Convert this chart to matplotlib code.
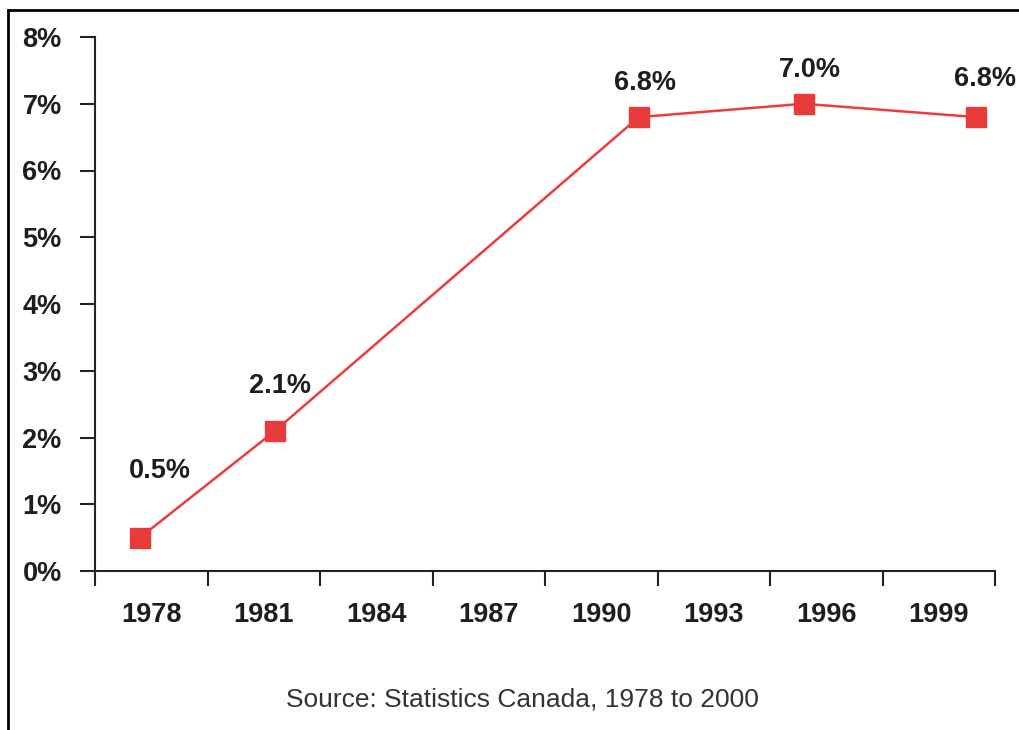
import matplotlib.pyplot as plt
from matplotlib.patches import Rectangle
from matplotlib.ticker import FixedLocator, NullFormatter

plt.rcParams['font.family'] = ['Liberation Sans', 'DejaVu Sans']

# survey years and share (%)
years = [1977.7, 1981.3, 1991.0, 1995.4, 2000.0]
share = [0.5, 2.1, 6.8, 7.0, 6.8]
value_labels = ['0.5%', '2.1%', '6.8%', '7.0%', '6.8%']
year_labels = ['1978', '1981', '1984', '1987', '1990', '1993', '1996', '1999']
y_ticks = [0, 1, 2, 3, 4, 5, 6, 7, 8]

# label nudges in pixels (dx, dy)
label_offsets = [(20, 67), (5, 45), (6, 34), (6, 34), (9, 38)]

W, H = 1019, 730
fig = plt.figure(figsize=(W / 100, H / 100), dpi=100)
ax = fig.add_axes([95 / W, (H - 571) / H, 900 / W, 534 / H])

red = '#ee3b3b'
ax.plot(years, share, color=red, lw=1.8, marker='s', ms=14,
        mfc='#e83c3c', mec='#e83c3c', zorder=3, clip_on=False)

px = 72 / 100
for x, y, lab, (dx, dy) in zip(years, share, value_labels, label_offsets):
    ax.annotate(lab, (x, y), xytext=(dx * px, dy * px), textcoords='offset points',
                ha='center', va='center', fontsize=19.5, fontweight='bold',
                color='#1e1e1e')

ax.set_xlim(1976.5, 2000.5)
ax.set_ylim(0, 8)

bounds = [1976.5 + 3 * i for i in range(9)]
mids = [b + 1.5 for b in bounds[:-1]]
ax.xaxis.set_major_locator(FixedLocator(bounds))
ax.xaxis.set_major_formatter(NullFormatter())
ax.xaxis.set_minor_locator(FixedLocator(mids))
ax.set_xticklabels(year_labels, minor=True)
ax.tick_params(axis='x', which='major', length=11, width=1.5, color='#222222')
ax.tick_params(axis='x', which='minor', length=0, pad=22, labelsize=19.5,
               labelcolor='#1e1e1e')

ax.set_yticks(y_ticks)
ax.set_yticklabels([f'{v}%' for v in y_ticks])
ax.tick_params(axis='y', length=11, width=1.5, color='#222222', pad=13,
               labelsize=19.5, labelcolor='#1e1e1e')

for lab in ax.get_xticklabels(minor=True) + ax.get_yticklabels():
    lab.set_fontweight('bold')

for side in ['top', 'right']:
    ax.spines[side].set_visible(False)
for side in ['left', 'bottom']:
    ax.spines[side].set_linewidth(1.5)
    ax.spines[side].set_color('#222222')

fig.text(522 / W, 1 - 700 / H, 'Source: Statistics Canada, 1978 to 2000',
         ha='center', va='center', fontsize=19, color='#333333')

# outer frame
fig.patches.append(Rectangle((8 / W, -0.05), 1.1, 1 - 9.5 / H + 0.05,
                             transform=fig.transFigure, fill=False,
                             lw=2, ec='black', clip_on=False))

fig.savefig('out.png', dpi=100)
